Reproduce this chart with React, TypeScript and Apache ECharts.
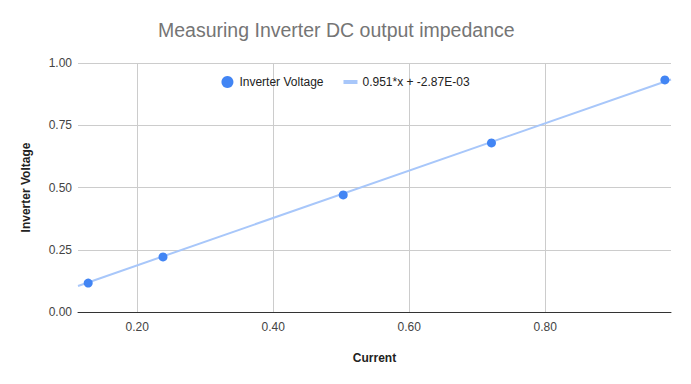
import React, { useEffect, useRef } from "react";
import * as echarts from "echarts";

const current = [0.128, 0.238, 0.503, 0.721, 0.976];
const voltage = [0.116, 0.221, 0.47, 0.679, 0.932];
const xTicks = [0.2, 0.4, 0.6, 0.8];
const yTicks = [0, 0.25, 0.5, 0.75, 1];
const slope = 0.951;
const intercept = -0.00287;
const xRange = [0.113, 0.985];
const seriesName = "Inverter Voltage";
const trendName = "0.951*x + -2.87E-03";

export default function App() {
  const ref = useRef<HTMLDivElement>(null);
  useEffect(() => {
    const chart = echarts.init(ref.current!, undefined, { renderer: "svg" });
    const font = "'Liberation Sans', Arial, sans-serif";
    chart.setOption({
      animation: false,
      backgroundColor: "#ffffff",
      title: {
        text: "Measuring Inverter DC output impedance",
        left: 153,
        top: 15,
        textStyle: { fontFamily: font, fontSize: 19.5, fontWeight: "normal", color: "#757575" },
      },
      legend: {
        left: "center",
        top: 71,
        itemWidth: 14,
        itemHeight: 12,
        itemGap: 20,
        textStyle: { fontFamily: font, fontSize: 12, color: "#222" },
        data: [
          { name: seriesName, icon: "circle" },
          { name: trendName, icon: "path://M0,4 L14,4 L14,8 L0,8 Z" },
        ],
      },
      grid: { left: 78, right: 20, top: 63, bottom: 72 },
      xAxis: {
        type: "value",
        min: xRange[0],
        max: xRange[1],
        name: "Current",
        nameLocation: "middle",
        nameGap: 40,
        nameTextStyle: { fontFamily: font, fontSize: 12, fontWeight: "bold", color: "#222" },
        axisLine: { show: true, lineStyle: { color: "#333", width: 1 } },
        axisTick: { show: false },
        splitLine: { show: false },
        axisLabel: {
          customValues: xTicks,
          formatter: (v: number) => v.toFixed(2),
          fontFamily: font,
          fontSize: 12,
          color: "#444",
          margin: 9,
        },
      },
      yAxis: {
        type: "value",
        min: 0,
        max: 1,
        interval: 0.25,
        name: seriesName,
        nameLocation: "middle",
        nameGap: 46,
        nameTextStyle: { fontFamily: font, fontSize: 12, fontWeight: "bold", color: "#222" },
        axisLine: { show: false },
        axisTick: { show: false },
        splitLine: { show: true, lineStyle: { color: "#cccccc", width: 1 } },
        axisLabel: {
          formatter: (v: number) => (yTicks.includes(v) ? v.toFixed(2) : ""),
          fontFamily: font,
          fontSize: 12,
          color: "#444",
          margin: 6,
        },
      },
      series: [
        {
          name: trendName,
          type: "line",
          data: xRange.map((x) => [x, slope * x + intercept]),
          showSymbol: false,
          symbol: "none",
          lineStyle: { color: "#a8c7fa", width: 2 },
          itemStyle: { color: "#a8c7fa" },
          z: 2,
          markLine: {
            silent: true,
            symbol: "none",
            label: { show: false },
            lineStyle: { color: "#cccccc", width: 1, type: "solid" },
            data: xTicks.map((x) => ({ xAxis: x })),
            z: 1,
          },
        },
        {
          name: seriesName,
          type: "scatter",
          data: current.map((x, i) => [x, voltage[i]]),
          symbolSize: 9,
          itemStyle: { color: "#4285f4", opacity: 1 },
          z: 3,
        },
      ],
    });
    return () => chart.dispose();
  }, []);
  return <div ref={ref} style={{ width: 691, height: 384, margin: -8 }} />;
}
